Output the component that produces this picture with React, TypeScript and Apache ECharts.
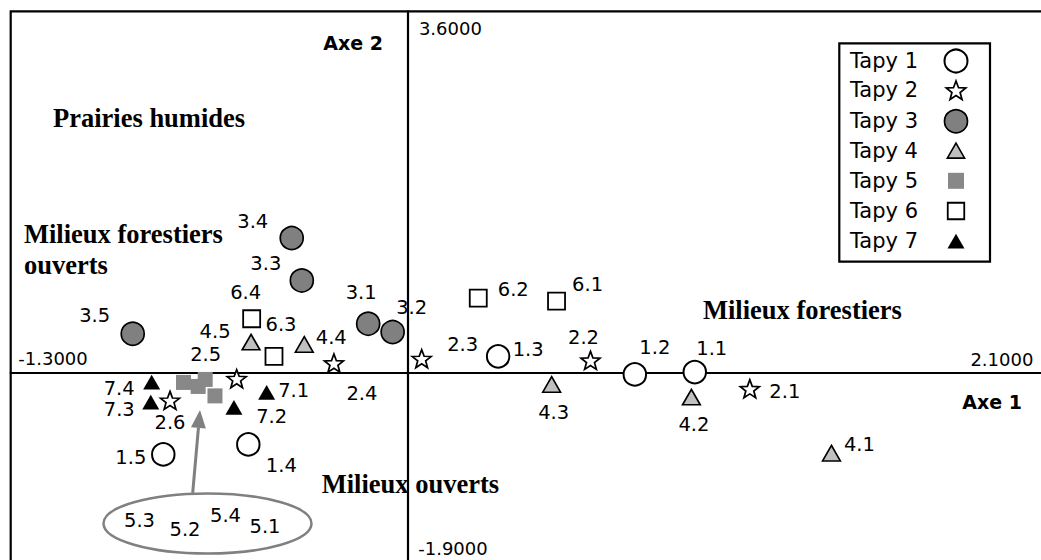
import React, { useEffect, useRef } from 'react';
import * as echarts from 'echarts';

// ---------- data ----------
const seriesNames = ['Tapy 1', 'Tapy 2', 'Tapy 3', 'Tapy 4', 'Tapy 5', 'Tapy 6', 'Tapy 7'];

const tapy1Names = ['1.1', '1.2', '1.3', '1.4', '1.5'];
const tapy1X = [0.937, 0.741, 0.294, -0.523, -0.801];
const tapy1Y = [0.003, -0.02, 0.16, -0.718, -0.818];

const tapy2Names = ['2.1', '2.2', '2.3', '2.4', '2.5', '2.6'];
const tapy2X = [1.117, 0.596, 0.044, -0.243, -0.561, -0.779];
const tapy2Y = [-0.163, 0.12, 0.137, 0.093, -0.063, -0.279];

const tapy3Names = ['3.1', '3.2', '3.3', '3.4', '3.5'];
const tapy3X = [-0.131, -0.051, -0.348, -0.381, -0.901];
const tapy3Y = [0.486, 0.402, 0.917, 1.339, 0.386];

const tapy4Names = ['4.1', '4.2', '4.3', '4.4', '4.5'];
const tapy4X = [1.384, 0.926, 0.469, -0.34, -0.514];
const tapy4Y = [-0.805, -0.246, -0.12, 0.279, 0.302];

const tapy5Names = ['5.1', '5.2', '5.3', '5.4'];
const tapy5X = [-0.632, -0.687, -0.735, -0.664];
const tapy5Y = [-0.234, -0.14, -0.1, -0.07];

const tapy6Names = ['6.1', '6.2', '6.3', '6.4'];
const tapy6X = [0.485, 0.229, -0.439, -0.512];
const tapy6Y = [0.711, 0.741, 0.16, 0.535];

const tapy7Names = ['7.1', '7.2', '7.3', '7.4'];
const tapy7X = [-0.463, -0.57, -0.842, -0.839];
const tapy7Y = [-0.199, -0.349, -0.296, -0.097];

const xMin = -1.3;
const xMax = 2.1;
const yMin = -1.9;
const yMax = 3.6;

const axisTitles = ['Axe 1', 'Axe 2'];
const zoneTitles = ['Prairies humides', 'Milieux forestiers', 'ouverts', 'Milieux forestiers', 'Milieux ouverts'];

// ---------- layout / style (kept apart from data) ----------
const SANS = 'DejaVu Sans';
const SERIF = 'Liberation Serif';

const labelOffsets: Record<string, [number, number]> = {
  '1.1': [17, -24], '1.2': [20, -26.5], '1.3': [30, -7], '1.4': [33, 21], '1.5': [-32.5, 3.5],
  '2.1': [35, 2.5], '2.2': [-7, -23], '2.3': [41, -14.5], '2.4': [28, 30], '2.5': [-31, -24.6], '2.6': [0, 22.5],
  '3.1': [-7, -31], '3.2': [19, -25], '3.3': [-36, -17], '3.4': [-39, -17], '3.5': [-38, -18],
  '4.1': [28, -8.5], '4.2': [2.5, 27.5], '4.3': [2, 28], '4.4': [27, -7], '4.5': [-36, -11],
  '6.1': [31, -17], '6.2': [35, -9], '6.3': [7, -32], '6.4': [-6, -26],
  '7.1': [27, -2], '7.2': [37.7, 8.8], '7.3': [-31.5, 7.5], '7.4': [-32.5, 6],
};

// positions of the Tapy 5 labels inside the ellipse annotation
const tapy5LabelPos: Record<string, [number, number]> = {
  '5.3': [139.5, 520], '5.2': [185, 529.5], '5.4': [225.5, 515], '5.1': [265, 526.5],
};

const STAR = 'path://M50,0L62.34,33.01L97.55,34.55L69.97,56.49L79.39,90.45L50,71L20.61,90.45L30.03,56.49L2.45,34.55L37.66,33.01Z';
const TRI = 'path://M50,0L100,87L0,87Z';
const SQUARE = 'path://M0,0L100,0L100,100L0,100Z';

type Sty = {
  symbol: string; size: number | number[]; fill: string; bw: number;
  legendH: number; legendHalfW: number; showLabel: boolean;
};
const seriesStyles: Sty[] = [
  { symbol: 'circle', size: 22.5, fill: '#ffffff', bw: 2, legendH: 23, legendHalfW: 12.5, showLabel: true },
  { symbol: STAR, size: [19, 18], fill: '#ffffff', bw: 1.7, legendH: 18.5, legendHalfW: 10.6, showLabel: true },
  { symbol: 'circle', size: 23, fill: '#808080', bw: 1.7, legendH: 23, legendHalfW: 12.35, showLabel: true },
  { symbol: TRI, size: [17.8, 15.5], fill: '#c0c0c0', bw: 1.6, legendH: 15, legendHalfW: 9.4, showLabel: true },
  { symbol: SQUARE, size: 15, fill: '#888888', bw: 0, legendH: 16, legendHalfW: 8, showLabel: false },
  { symbol: SQUARE, size: 17, fill: '#ffffff', bw: 1.8, legendH: 16.5, legendHalfW: 9.15, showLabel: true },
  { symbol: TRI, size: [17, 14.8], fill: '#000000', bw: 0, legendH: 14.8, legendHalfW: 8.5, showLabel: true },
];

const allNames = [tapy1Names, tapy2Names, tapy3Names, tapy4Names, tapy5Names, tapy6Names, tapy7Names];
const allX = [tapy1X, tapy2X, tapy3X, tapy4X, tapy5X, tapy6X, tapy7X];
const allY = [tapy1Y, tapy2Y, tapy3Y, tapy4Y, tapy5Y, tapy6Y, tapy7Y];

const W = 1041;
const H = 560;

export default function App() {
  const ref = useRef<HTMLDivElement>(null);

  useEffect(() => {
    if (!ref.current) return;
    const chart = echarts.init(ref.current, null, { renderer: 'svg' });

    const series = seriesNames.map((name, si) => {
      const st = seriesStyles[si];
      return {
        type: 'scatter',
        name,
        symbol: st.symbol,
        symbolSize: st.size,
        itemStyle: {
          color: st.fill,
          borderColor: '#000',
          borderWidth: st.bw,
          borderJoin: 'miter',
          borderMiterLimit: 10,
          opacity: 1,
        },
        label: {
          show: st.showLabel,
          position: 'inside',
          formatter: '{b}',
          color: '#000',
          fontFamily: SANS,
          fontSize: 19.5,
        },
        emphasis: { disabled: true },
        data: allNames[si].map((n, i) => ({
          name: n,
          value: [allX[si][i], allY[si][i]],
          label: { offset: labelOffsets[n] || [0, 0] },
        })),
        z: 3,
      };
    });

    const iconCenterX = 956;
    const legendItemW = 66;
    const legends = seriesNames.map((name, si) => {
      const st = seriesStyles[si];
      const rowCenter = 60 + 30.2 * si;
      return {
        data: [name],
        orient: 'vertical',
        align: 'right',
        right: W - iconCenterX - st.legendHalfW,
        top: rowCenter - Math.max(st.legendH, 21) / 2,
        itemWidth: legendItemW,
        itemHeight: st.legendH,
        itemGap: 0,
        padding: 0,
        selectedMode: false,
        symbolKeepAspect: true,
        itemStyle: { borderWidth: st.bw, borderColor: '#000', borderJoin: 'miter' },
        textStyle: { fontFamily: SANS, fontSize: 21, color: '#000', lineHeight: 21 },
      };
    });

    chart.setOption({
      animation: false,
      backgroundColor: '#ffffff',
      grid: {
        left: 10.7,
        top: 11.3,
        width: 1039.7,
        height: 551.7,
        show: true,
        borderColor: '#000',
        borderWidth: 2.2,
        backgroundColor: 'transparent',
        containLabel: false,
        outerBoundsMode: 'none',
      },
      xAxis: {
        type: 'value',
        min: xMin,
        max: xMax,
        axisLine: { onZero: true, lineStyle: { color: '#000', width: 2.2 } },
        axisTick: { show: false },
        axisLabel: { show: false },
        splitLine: { show: false },
      },
      yAxis: {
        type: 'value',
        min: yMin,
        max: yMax,
        axisLine: { onZero: true, lineStyle: { color: '#000', width: 2.2 } },
        axisTick: { show: false },
        axisLabel: { show: false },
        splitLine: { show: false },
      },
      legend: legends,
      series,
    });

    const toPx = (p: number[]) => chart.convertToPixel({ gridIndex: 0 }, p) as number[];
    const [x0, y0] = toPx([0, 0]);
    const [xL] = toPx([xMin, 0]);
    const [xR] = toPx([xMax, 0]);
    const [, yT] = toPx([0, yMax]);
    const [, yB] = toPx([0, yMin]);

    const tickStyle = { fontFamily: SANS, fontSize: 18, fill: '#000', verticalAlign: 'middle' };
    const txt = (text: string, x: number, y: number, extra: any) => ({
      type: 'text',
      z: 10,
      style: { text, x, y, fill: '#000', verticalAlign: 'middle', ...extra },
    });

    const serifBold = { fontFamily: SERIF, fontWeight: 'bold', fontSize: 26.5, align: 'left' };
    const sansBold = { fontFamily: SANS, fontWeight: 'bold', fontSize: 19, align: 'right' };

    // arrow geometry (annotation)
    const tip = [200, 410];
    const tail = [192.7, 493];
    const dx = tip[0] - tail[0];
    const dy = tip[1] - tail[1];
    const len = Math.sqrt(dx * dx + dy * dy);
    const ux = dx / len;
    const uy = dy / len;
    const nx = -uy;
    const ny = ux;
    const headLen = 18;
    const headHalf = 7.5;
    const bx = tip[0] - headLen * ux;
    const by = tip[1] - headLen * uy;

    const graphics: any[] = [
      {
        type: 'rect',
        z: 1,
        shape: { x: 839.3, y: 43.3, width: 150.7, height: 218.4 },
        style: { fill: '#fff', stroke: '#000', lineWidth: 2.2 },
      },
      // tick labels placed through the axes' scales
      txt(xMin.toFixed(4), xL + 7.6, y0 - 14, { ...tickStyle, align: 'left' }),
      txt(xMax.toFixed(4), xR - 17, y0 - 12.5, { ...tickStyle, align: 'right' }),
      txt(yMax.toFixed(4), x0 + 10.7, yT + 17, { ...tickStyle, align: 'left' }),
      txt(yMin.toFixed(4), x0 + 10, yB - 14.7, { ...tickStyle, align: 'left' }),
      // axis titles
      txt(axisTitles[1], 383, 43, sansBold),
      txt(axisTitles[0], 1022, 402, sansBold),
      // zone titles
      txt(zoneTitles[0], 53, 118, serifBold),
      txt(zoneTitles[1], 24, 233.5, serifBold),
      txt(zoneTitles[2], 24, 265, serifBold),
      txt(zoneTitles[3], 703, 310, serifBold),
      txt(zoneTitles[4], 321.7, 483.5, serifBold),
      // ellipse annotation for Tapy 5
      {
        type: 'ellipse',
        z: 5,
        shape: { cx: 207.5, cy: 523.5, rx: 104, ry: 30 },
        style: { fill: 'none', stroke: '#808080', lineWidth: 2.5 },
      },
      {
        type: 'line',
        z: 5,
        shape: { x1: tail[0], y1: tail[1], x2: bx, y2: by },
        style: { stroke: '#808080', lineWidth: 3 },
      },
      {
        type: 'polygon',
        z: 5,
        shape: {
          points: [
            [tip[0], tip[1]],
            [bx + headHalf * nx, by + headHalf * ny],
            [bx - headHalf * nx, by - headHalf * ny],
          ],
        },
        style: { fill: '#808080' },
      },
      ...tapy5Names.map((n) => {
        const p = tapy5LabelPos[n];
        return txt(n, p[0], p[1], { fontFamily: SANS, fontSize: 19.5, align: 'center' });
      }),
    ];

    chart.setOption({ graphic: graphics });

    return () => chart.dispose();
  }, []);

  return (
    <div
      ref={ref}
      style={{ position: 'absolute', left: 0, top: 0, width: W, height: H, background: '#fff' }}
    />
  );
}
